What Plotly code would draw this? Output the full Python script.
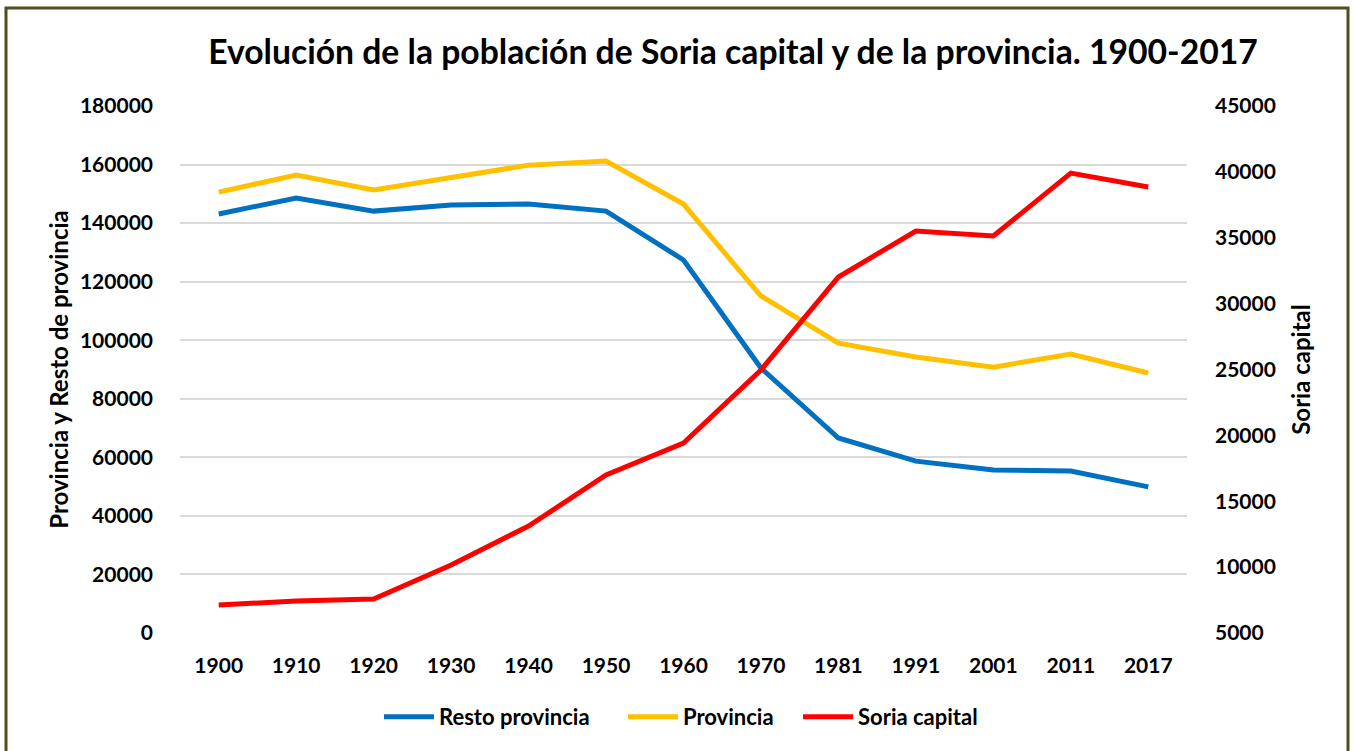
import plotly.graph_objects as go

years = ["1900", "1910", "1920", "1930", "1940", "1950", "1960", "1970", "1981", "1991", "2001", "2011", "2017"]
resto_provincia = [143100, 148600, 144100, 146200, 146500, 144100, 127400, 90500, 66600, 58700, 55700, 55300, 49900]
provincia = [150600, 156400, 151300, 155700, 159800, 161200, 146500, 115100, 99000, 94300, 90800, 95300, 88800]
soria_capital = [7125, 7430, 7580, 10160, 13120, 16990, 19420, 24960, 32020, 35510, 35130, 39910, 38850]

left_ticks = [0, 20000, 40000, 60000, 80000, 100000, 120000, 140000, 160000, 180000]
right_ticks = [5000, 10000, 15000, 20000, 25000, 30000, 35000, 40000, 45000]

FONT = "Lato"
W, H = 1354, 751
L, R, T, B = 180, 167, 106, 118
pw, ph = W - L - R, H - T - B

def px_x(p):
    return (p - L) / pw

def px_y(p):
    return (H - B - p) / ph

fig = go.Figure()
fig.add_trace(go.Scatter(x=years, y=resto_provincia, name="Resto provincia", mode="lines",
                         line=dict(color="#0070C0", width=5), legend="legend"))
fig.add_trace(go.Scatter(x=years, y=provincia, name="Provincia", mode="lines",
                         line=dict(color="#FFC000", width=5), legend="legend2"))
fig.add_trace(go.Scatter(x=years, y=soria_capital, name="Soria capital", mode="lines", yaxis="y2",
                         line=dict(color="#FF0000", width=5), legend="legend3"))

tickfont = dict(family=FONT, size=21, color="#000000", weight="bold")
legfont = dict(family=FONT, size=22, color="#000000", weight="bold")
leg_y = px_y(717)

def leg(xpx):
    return dict(orientation="h", x=px_x(xpx), xanchor="left", y=leg_y, yanchor="middle",
                font=legfont, itemwidth=50, bgcolor="rgba(0,0,0,0)")

fig.update_layout(
    width=W, height=H,
    margin=dict(l=L, r=R, t=T, b=B),
    paper_bgcolor="white", plot_bgcolor="white",
    font=dict(family=FONT, color="#000000", size=21),
    title=dict(text="<b>Evolución de la población de Soria capital y de la provincia. 1900-2017</b>",
               xref="paper", x=px_x(733), xanchor="center", y=1 - 52 / H, yanchor="middle",
               font=dict(family=FONT, size=33.7, color="#000000")),
    xaxis=dict(type="category", range=[-0.5, 12.5], showgrid=False, showline=False, zeroline=False,
               ticks="", ticklabelstandoff=18, tickfont=tickfont),
    yaxis=dict(range=[0, 180000], tickvals=left_ticks, ticktext=[str(v) for v in left_ticks],
               showgrid=True, gridcolor="#D9D9D9", gridwidth=2, zeroline=False, showline=False,
               ticks="", ticklabelstandoff=26, tickfont=tickfont,
               title=dict(text="<b>Provincia y Resto de provincia</b>", standoff=4,
                          font=dict(family=FONT, size=24, color="#000000"))),
    yaxis2=dict(range=[5000, 45000], tickvals=right_ticks, ticktext=[str(v) for v in right_ticks],
                overlaying="y", side="right", showgrid=False, zeroline=False, showline=False,
                ticks="", ticklabelstandoff=27, tickfont=tickfont,
                title=dict(text="<b>Soria capital</b>", standoff=18,
                           font=dict(family=FONT, size=24, color="#000000"))),
    legend=leg(379),
    legend2=leg(623),
    legend3=leg(798),
    showlegend=True,
)

fig.add_shape(type="rect", xref="paper", yref="paper",
              x0=px_x(6), x1=px_x(1348), y0=px_y(8), y1=px_y(760),
              line=dict(color="#4F4F1E", width=3), fillcolor="rgba(0,0,0,0)", layer="above")

fig.write_html("out.html", config={"displayModeBar": False},
               post_script="document.body.style.margin='0px';document.body.style.padding='0px';")
